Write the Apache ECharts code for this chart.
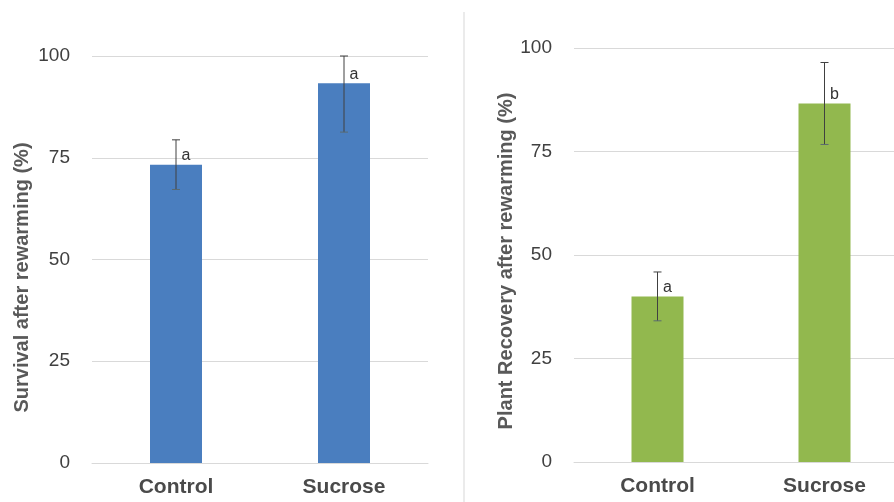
<!DOCTYPE html>
<html>
<head>
<meta charset="utf-8">
<script src="https://cdn.jsdelivr.net/npm/echarts@6/dist/echarts.min.js"></script>
<style>html,body{margin:0;padding:0;background:#fff}#c{width:894px;height:502px}</style>
</head>
<body>
<div id="c"></div>
<script>
const categories = ["Control", "Sucrose"];
const yTicks = [0, 25, 50, 75, 100];
// Left panel
const survivalValues = [73.3, 93.3];
const survivalErrors = [6.1, 12.0];
const survivalLetters = ["a", "a"];
const survivalTitle = "Survival after rewarming (%)";
// Right panel
const recoveryValues = [40.0, 86.6];
const recoveryErrors = [5.9, 9.9];
const recoveryLetters = ["a", "b"];
const recoveryTitle = "Plant Recovery after rewarming (%)";

const chart = echarts.init(document.getElementById('c'), null, {renderer: 'canvas'});
const FONT = '"Liberation Sans", Arial, sans-serif';

function yAxisCfg(gridIndex, name, gap, pad) {
  return {
    gridIndex, type: 'value', min: yTicks[0], max: yTicks[yTicks.length - 1], interval: 25,
    name, nameLocation: 'middle', nameGap: gap, nameRotate: 90,
    nameTextStyle: {fontFamily: FONT, fontSize: 20, fontWeight: 'bold', color: '#595959', padding: pad},
    axisLine: {show: false}, axisTick: {show: false},
    axisLabel: {fontFamily: FONT, fontSize: 19, color: '#404040', margin: 22},
    splitLine: {lineStyle: {color: '#d9d9d9', width: 1}}
  };
}
function xAxisCfg(gridIndex) {
  return {
    gridIndex, type: 'category', data: categories,
    axisLine: {lineStyle: {color: '#d9d9d9', width: 1}}, axisTick: {show: false},
    axisLabel: {fontFamily: FONT, fontSize: 21, fontWeight: 'bold', color: '#4a4a4a', margin: 14}
  };
}
function barSeries(idx, values, letters, color) {
  return {
    type: 'bar', xAxisIndex: idx, yAxisIndex: idx, data: values, barWidth: 52,
    itemStyle: {color},
    label: {
      show: true, position: 'top', distance: 1, offset: [10, 0],
      formatter: p => letters[p.dataIndex],
      fontFamily: FONT, fontSize: 16, color: '#333'
    },
    z: 2
  };
}
function errSeries(idx, values, errors) {
  const data = values.map((v, i) => [i, v, errors[i]]);
  return {
    type: 'custom', xAxisIndex: idx, yAxisIndex: idx, data, z: 5, silent: true, clip: false,
    renderItem: (params, api) => {
      const i = api.value(0), v = api.value(1), e = api.value(2);
      const hi = Math.min(yTicks[yTicks.length - 1], v + e);
      const lo = v - e;
      const pHi = api.coord([i, hi]);
      const pLo = api.coord([i, lo]);
      const cap = 4;
      const st = {stroke: '#404040', lineWidth: 1};
      return {
        type: 'group',
        children: [
          {type: 'line', shape: {x1: pHi[0], y1: pHi[1], x2: pLo[0], y2: pLo[1]}, style: st},
          {type: 'line', shape: {x1: pHi[0] - cap, y1: pHi[1], x2: pHi[0] + cap, y2: pHi[1]}, style: st},
          {type: 'line', shape: {x1: pLo[0] - cap, y1: pLo[1], x2: pLo[0] + cap, y2: pLo[1]}, style: {stroke: '#5a6a70', lineWidth: 1}}
        ]
      };
    }
  };
}

chart.setOption({
  animation: false,
  backgroundColor: '#ffffff',
  grid: [
    {left: 92, width: 336, top: 56, bottom: 39, outerBoundsMode: 'none', containLabel: false},
    {left: 574, width: 334, top: 48, bottom: 40, outerBoundsMode: 'none', containLabel: false}
  ],
  xAxis: [xAxisCfg(0), xAxisCfg(1)],
  yAxis: [
    yAxisCfg(0, survivalTitle, 60, [0, 36, 0, 0]),
    yAxisCfg(1, recoveryTitle, 57, [0, 12, 0, 0])
  ],
  series: [
    barSeries(0, survivalValues, survivalLetters, '#4a7ebf'),
    errSeries(0, survivalValues, survivalErrors),
    barSeries(1, recoveryValues, recoveryLetters, '#92b84e'),
    errSeries(1, recoveryValues, recoveryErrors)
  ],
  graphic: [
    {type: 'line', shape: {x1: 464, y1: 12, x2: 464, y2: 502}, style: {stroke: '#e4e4e4', lineWidth: 1.5}}
  ]
});
</script>
</body>
</html>
